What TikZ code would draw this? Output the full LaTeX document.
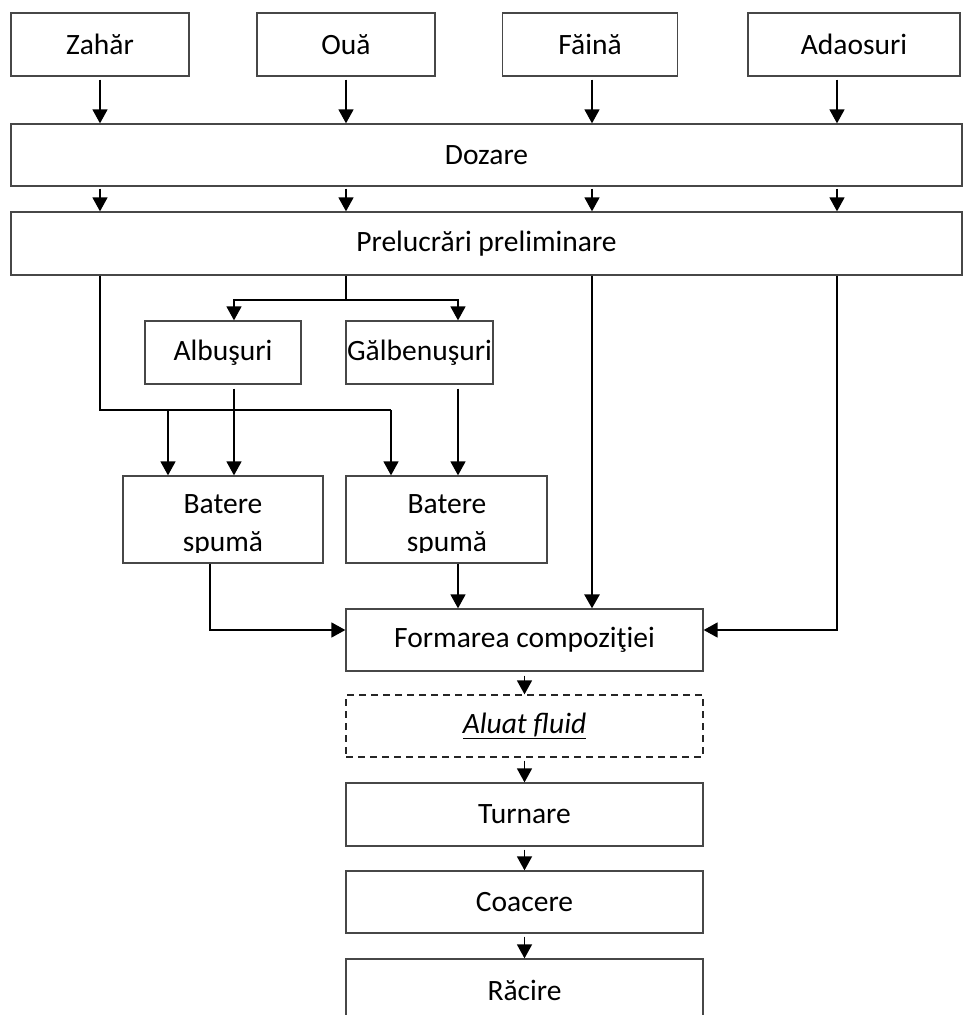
\documentclass[tikz,border=0pt]{standalone}
\usepackage{fontspec}
\setmainfont{Carlito}
\usetikzlibrary{arrows.meta}
\begin{document}
\begin{tikzpicture}[x=1pt,y=-1pt,
  txt/.style={inner sep=0pt, font=\fontsize{29.5}{35}\selectfont},
  box/.style={draw=black!72, line width=1.3pt, minimum height=63pt, inner sep=0pt, font=\fontsize{29.5}{35}\selectfont},
  dbox/.style={box, draw=black!85, dash pattern=on 7pt off 5pt},
  arr/.style={line width=1.6pt, -{Triangle[length=14pt,width=15pt]}},
  plain/.style={line width=1.6pt},
  thick arr/.style={line width=2.8pt, -{Triangle[length=14pt,width=15pt]}}]
\useasboundingbox (0,0) rectangle (963,1015);
\clip (0,0) rectangle (963,1015);

% columns and junctions
\coordinate (x1) at (100,0);
\coordinate (x2) at (346,0);
\coordinate (x3) at (592,0);
\coordinate (x4) at (837,0);
\coordinate (jl) at (100,410);
\coordinate (ja) at (168,410);
\coordinate (jr) at (391,410);
\coordinate (s) at (346,300);
\coordinate (sl) at (234,300);
\coordinate (sr) at (458,300);
\coordinate (m1) at (210,630);
\coordinate (m2) at (837,630);

% boxes
\node[box,minimum width=178pt] (zahar) at (100,44.5) {Zahăr};
\node[box,minimum width=178pt] (oua) at (346,44.5) {Ouă};
\node[box,minimum width=175pt] (faina) at (590,44.5) {Făină};
\node[box,minimum width=212pt] (adaos) at (854,44.5) {Adaosuri};
\node[box,minimum width=951pt,minimum height=62pt] (doz) at (486.5,155) {Dozare};
\node[box,minimum width=951pt] (prel) at (486.5,243.5) {Prelucrări preliminare};
\node[box,minimum width=156pt] (alb) at (223,352.5) {Albuşuri};
\node[box,minimum width=147pt] (galb) at (419.5,352.5) {Gălbenuşuri};
\node[box,minimum width=200pt,minimum height=87pt] (b1) at (223,519.5) {};
\node[box,minimum width=201pt,minimum height=87pt] (b2) at (446.5,519.5) {};
\node[box,minimum width=357pt,minimum height=62pt] (form) at (524.5,640) {Formarea compoziţiei};
\node[dbox,minimum width=357pt,minimum height=62pt] (aluat) at (524.5,726) {\underline{\itshape Aluat fluid}};
\node[box,minimum width=357pt] (turn) at (524.5,814.5) {Turnare};
\node[box,minimum width=357pt,minimum height=62pt] (coac) at (524.5,902) {Coacere};
\node[box,minimum width=357pt,minimum height=62pt] (rac) at (524.5,990) {Răcire};

% clipped two-line texts
\begin{scope}
\clip (b1.north west) rectangle ([yshift=11pt]b2.south east);
\node[txt,anchor=base] (b1a) at (223,513) {Batere};
\node[txt,anchor=base] (b1b) at (223,551.5) {spumă};
\node[txt,anchor=base] (b2a) at (447,513) {Batere};
\node[txt,anchor=base] (b2b) at (447,551.5) {spumă};
\end{scope}

% inputs to Dozare
\draw[arr,shorten <=3pt] (zahar.south -| x1) -- (doz.north -| x1);
\draw[arr,shorten <=3pt] (oua.south -| x2) -- (doz.north -| x2);
\draw[arr,shorten <=3pt] (faina.south -| x3) -- (doz.north -| x3);
\draw[arr,shorten <=3pt] (adaos.south -| x4) -- (doz.north -| x4);
% Dozare to Prelucrari
\draw[arr,shorten <=2pt] (doz.south -| x1) -- (prel.north -| x1);
\draw[arr,shorten <=2pt] (doz.south -| x2) -- (prel.north -| x2);
\draw[arr,shorten <=2pt] (doz.south -| x3) -- (prel.north -| x3);
\draw[arr,shorten <=2pt] (doz.south -| x4) -- (prel.north -| x4);

% sugar route
\draw[plain] (prel.south -| x1) -- (jl) -- (jr);
\draw[arr] (jr) -- (b2.north -| jr);
\draw[arr] (ja) -- (b1.north -| ja);
% egg split
\draw[plain] (prel.south -| s) -- (s);
\draw[arr] (s) -- (sl) -- (alb.north -| sl);
\draw[arr] (s) -- (sr) -- (galb.north -| sr);
\draw[arr,shorten <=4pt] (alb.south -| sl) -- (b1.north -| sl);
\draw[arr,shorten <=4pt] (galb.south -| sr) -- (b2.north -| sr);
% to Formarea
\draw[arr] (b1.south -| m1) |- (form.west |- m1);
\draw[arr] (b2.south -| sr) -- (form.north -| sr);
\draw[thick arr] (prel.south -| x3) -- (form.north -| x3);
\draw[arr] (prel.south -| x4) -- (m2) -- (form.east |- m2);
% main line
\draw[arr,shorten <=4pt] (form.south) -- (aluat.north);
\draw[arr,shorten <=3pt] (aluat.south) -- (turn.north);
\draw[arr,shorten <=3pt] (turn.south) -- (coac.north);
\draw[arr,shorten <=3pt] (coac.south) -- (rac.north);
\end{tikzpicture}
\end{document}
